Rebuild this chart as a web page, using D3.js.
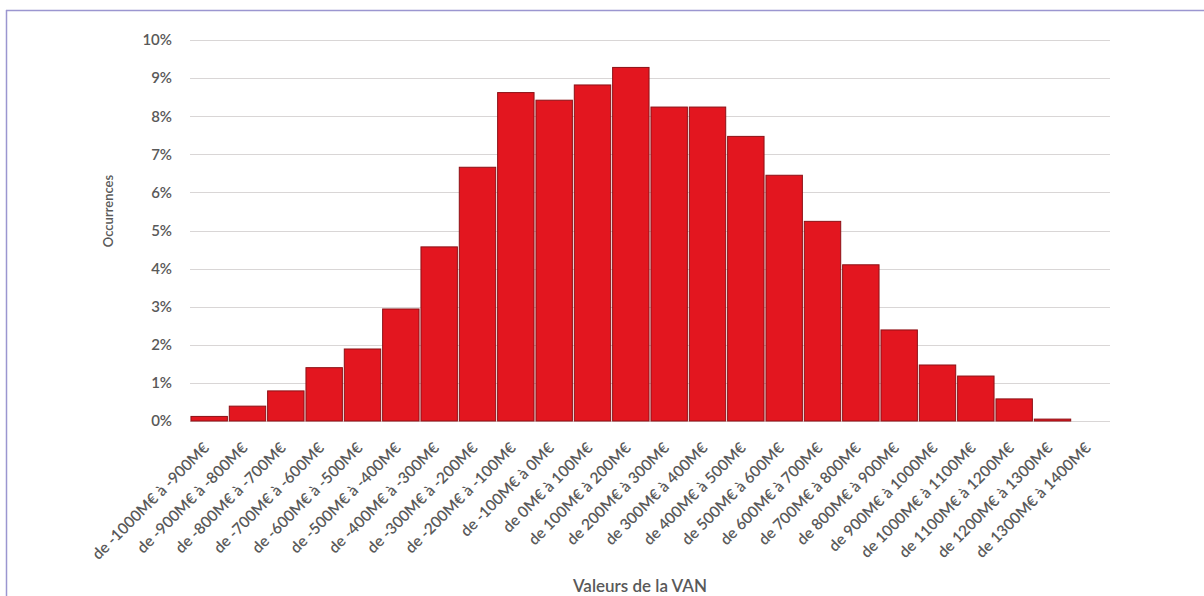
<!DOCTYPE html>
<html>
<head>
<meta charset="utf-8">
<script src="https://cdn.jsdelivr.net/npm/d3@7"></script>
<style>
  html, body { margin: 0; padding: 0; background: #fff; }
  svg { display: block; }
  text { font-family: Lato, "Open Sans", sans-serif; fill: #595959; }
</style>
</head>
<body>
<svg id="chart" width="1204" height="596"></svg>
<script>
// Distribution of simulated NPV values (VAN), share of occurrences per 100 M€ bin
const categories = [
  "de -1000M€ à -900M€", "de -900M€ à -800M€", "de -800M€ à -700M€", "de -700M€ à -600M€",
  "de -600M€ à -500M€", "de -500M€ à -400M€", "de -400M€ à -300M€", "de -300M€ à -200M€",
  "de -200M€ à -100M€", "de -100M€ à 0M€", "de 0M€ à 100M€", "de 100M€ à 200M€",
  "de 200M€ à 300M€", "de 300M€ à 400M€", "de 400M€ à 500M€", "de 500M€ à 600M€",
  "de 600M€ à 700M€", "de 700M€ à 800M€", "de 800M€ à 900M€", "de 900M€ à 1000M€",
  "de 1000M€ à 1100M€", "de 1100M€ à 1200M€", "de 1200M€ à 1300M€", "de 1300M€ à 1400M€"
];
// Share of occurrences, in percent (last bin empty)
const occurrences = [
  0.12, 0.39, 0.79, 1.40, 1.89, 2.94, 4.57, 6.66,
  8.62, 8.42, 8.82, 9.28, 8.24, 8.24, 7.47, 6.45,
  5.24, 4.10, 2.39, 1.47, 1.18, 0.58, 0.05, 0
];
const yTicks = [0, 1, 2, 3, 4, 5, 6, 7, 8, 9, 10];

const svg = d3.select("#chart");

// Frame around the figure
svg.append("line").attr("x1", 6).attr("x2", 1204).attr("y1", 10.5).attr("y2", 10.5)
  .attr("stroke", "#9b96d0").attr("stroke-width", 1.5);
svg.append("line").attr("x1", 6.5).attr("x2", 6.5).attr("y1", 10).attr("y2", 596)
  .attr("stroke", "#9b96d0").attr("stroke-width", 1.5);

const plot = { left: 190, right: 1110, top: 40, bottom: 421 };

const x = d3.scaleBand()
  .domain(categories)
  .range([plot.left, plot.right])
  .paddingInner(0.05)
  .paddingOuter(0.025);

const y = d3.scaleLinear()
  .domain([0, 10])
  .range([plot.bottom, plot.top]);

// Horizontal gridlines
svg.append("g")
  .selectAll("line")
  .data(yTicks)
  .join("line")
  .attr("x1", plot.left)
  .attr("x2", plot.right)
  .attr("y1", d => Math.round(y(d)) + 0.5)
  .attr("y2", d => Math.round(y(d)) + 0.5)
  .attr("stroke", "#d9d6d6")
  .attr("stroke-width", 1.2);

// Y axis tick labels
const yAxis = d3.axisLeft(y)
  .tickValues(yTicks)
  .tickFormat(d => d + "%")
  .tickSize(0)
  .tickPadding(0);
const gy = svg.append("g")
  .attr("transform", `translate(${plot.left - 18},0)`)
  .call(yAxis);
gy.select(".domain").remove();
gy.selectAll("text")
  .style("font-family", "Lato, sans-serif")
  .style("font-size", "15px")
  .style("font-weight", "600")
  .attr("fill", "#595959");

// Bars
svg.append("g")
  .selectAll("rect")
  .data(categories.map((c, i) => ({ c, v: occurrences[i] })).filter(d => d.v > 0))
  .join("rect")
  .attr("x", d => x(d.c))
  .attr("width", x.bandwidth())
  .attr("y", d => y(d.v))
  .attr("height", d => y(0) - y(d.v))
  .attr("fill", "#e3161f")
  .attr("stroke", "#8c1116")
  .attr("stroke-width", 1);

// X axis category labels, rotated
const xAxis = d3.axisBottom(x).tickSize(0).tickPadding(0);
const gx = svg.append("g")
  .attr("transform", `translate(0,${plot.bottom})`)
  .call(xAxis);
gx.select(".domain").remove();
gx.selectAll("text")
  .style("font-family", "Lato, sans-serif")
  .style("font-size", "15.5px")
  .style("font-weight", "600")
  .attr("fill", "#595959")
  .attr("text-anchor", "end")
  .attr("dy", null)
  .attr("y", 0)
  .attr("transform", "translate(1,28) rotate(-45)");

// Axis titles
svg.append("text")
  .attr("x", 640)
  .attr("y", 592)
  .attr("text-anchor", "middle")
  .style("font-size", "17px")
  .style("font-weight", "600")
  .text("Valeurs de la VAN");

svg.append("text")
  .attr("transform", "translate(113,211) rotate(-90)")
  .attr("text-anchor", "middle")
  .style("font-size", "13px")
  .style("font-weight", "600")
  .text("Occurrences");
</script>
</body>
</html>
